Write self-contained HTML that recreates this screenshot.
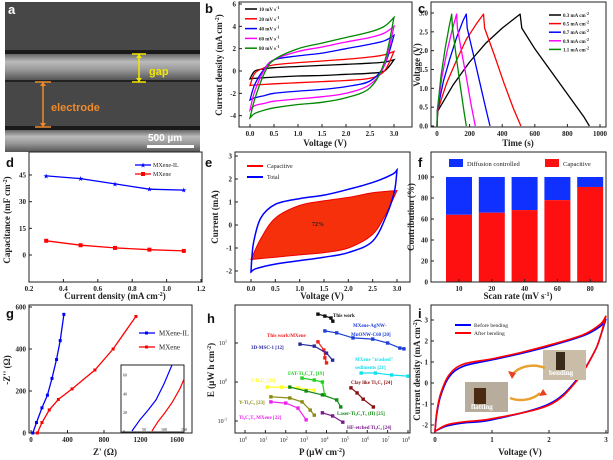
<!DOCTYPE html>
<html><head><meta charset="utf-8">
<style>
html,body{margin:0;padding:0;background:#fff;}
svg{display:block;font-family:"Liberation Serif",serif;}
</style></head>
<body>
<svg id="fig" width="613" height="460" viewBox="0 0 613 460" xmlns="http://www.w3.org/2000/svg">
<defs>
<linearGradient id="band" x1="0" y1="0" x2="0" y2="1">
<stop offset="0" stop-color="#666"/><stop offset="0.3" stop-color="#bbb"/><stop offset="0.6" stop-color="#999"/><stop offset="1" stop-color="#555"/>
</linearGradient>
</defs>
<g>
<rect x="5" y="2" width="195" height="150" fill="#474747"/>
<rect x="5" y="50" width="195" height="4" fill="#1a1a1a"/>
<rect x="5" y="54" width="195" height="26" fill="url(#band)"/>
<rect x="5" y="80" width="195" height="2" fill="#222"/>
<rect x="5" y="126" width="195" height="4" fill="#1a1a1a"/>
<rect x="5" y="130" width="195" height="22" fill="url(#band)"/>
<line x1="139" y1="54" x2="139" y2="82" stroke="#f2e600" stroke-width="1.5"/>
<line x1="132" y1="54" x2="146" y2="54" stroke="#f2e600" stroke-width="1.5"/>
<line x1="132" y1="82" x2="146" y2="82" stroke="#f2e600" stroke-width="1.5"/>
<polygon points="136,58 142,58 139,54" fill="#f2e600"/><polygon points="136,78 142,78 139,82" fill="#f2e600"/>
<text x="149" y="75" fill="#f2e600" font-size="11" font-weight="bold" font-family="Liberation Sans, sans-serif">gap</text>
<line x1="43" y1="82" x2="43" y2="127" stroke="#f08a2a" stroke-width="1.5"/>
<line x1="35" y1="82" x2="51" y2="82" stroke="#f08a2a" stroke-width="1.5"/>
<line x1="35" y1="127" x2="51" y2="127" stroke="#f08a2a" stroke-width="1.5"/>
<polygon points="40,86 46,86 43,82" fill="#f08a2a"/><polygon points="40,123 46,123 43,127" fill="#f08a2a"/>
<text x="51" y="111" fill="#f08a2a" font-size="11" font-weight="bold" font-family="Liberation Sans, sans-serif">electrode</text>
<text x="148" y="141" fill="#fff" font-size="10" font-weight="bold" font-family="Liberation Sans, sans-serif">500 µm</text>
<rect x="147" y="145" width="47" height="3" fill="#fff"/>
<text x="8" y="14" fill="#fff" font-size="13" font-weight="bold" font-family="Liberation Sans, sans-serif">a</text>
</g>
</svg>
<script>
// ---------- DATA ----------
const cvVolt=[0,0.1,0.3,0.5,1,1.5,2,2.5,2.8,3];
const cvRates=['10 mV s','20 mV s','40 mV s','60 mV s','80 mV s'];
const cvTop10=[-0.7,0,0.2,0.3,0.4,0.5,0.6,0.7,0.8,1.0];
const cvBot10=[-0.7,-0.65,-0.6,-0.55,-0.45,-0.4,-0.3,-0.2,0,1.0];
const cvTop20=[-1.3,-0.2,0.3,0.55,0.75,0.9,1.05,1.25,1.45,1.75];
const cvBot20=[-1.3,-1.25,-1.2,-1.15,-1.05,-0.95,-0.85,-0.65,0,1.75];
const cvTop40=[-2.6,-1.2,0.2,1.0,1.35,1.6,2.0,2.4,2.7,3.2];
const cvBot40=[-2.6,-2.4,-2.2,-2.0,-1.8,-1.65,-1.4,-0.9,0.5,3.2];
const cvTop60=[-3.5,-1.8,0.1,1.0,1.75,2.15,2.6,3.0,3.4,4.0];
const cvBot60=[-3.5,-3.1,-2.9,-2.7,-2.5,-2.3,-2.0,-1.2,0.5,4.0];
const cvTop80=[-4.2,-2.5,-0.2,1.0,2.0,2.5,3.0,3.5,4.0,4.8];
const cvBot80=[-4.2,-3.8,-3.5,-3.3,-3.0,-2.8,-2.4,-1.5,0.8,4.8];

const gcdCurrents=['0.3 mA cm','0.5 mA cm','0.7 mA cm','0.9 mA cm','1.1 mA cm'];
const gcdT03=[0,5,100,200,300,400,510,520,600,700,800,900,935];
const gcdV03=[0,0.4,1.1,1.7,2.2,2.6,2.97,2.6,2.05,1.45,0.85,0.25,0];
const gcdT05=[0,3,60,120,180,240,285,292,350,410,470,515];
const gcdV05=[0,0.4,1.15,1.75,2.3,2.7,2.97,2.6,1.9,1.15,0.45,0];
const gcdT07=[0,2,40,80,120,160,180,185,220,260,300,325];
const gcdV07=[0,0.4,1.2,1.8,2.35,2.8,2.97,2.6,1.95,1.2,0.45,0];
const gcdT09=[0,2,30,60,90,120,125,150,180,210,235];
const gcdV09=[0,0.4,1.3,1.95,2.5,2.97,2.6,2.0,1.3,0.55,0];
const gcdT11=[0,2,25,50,75,90,95,115,140,165,180];
const gcdV11=[0,0.4,1.35,2.05,2.65,2.97,2.6,1.95,1.15,0.4,0];

const capCurrent=[0.3,0.5,0.7,0.9,1.1];
const capIL=[44.5,43,40,37,36.5];
const capMX=[8,5.5,4,3,2.3];

const eCapTopV=[0,0.2,0.5,1,1.5,2,2.5,3];
const eCapTopI=[-1.5,-0.6,0.3,0.85,1.05,1.2,1.4,1.5];
const eCapBotV=[3,2.8,2.5,2,1.5,1,0.5,0];
const eCapBotI=[1.5,0.6,-0.4,-1.0,-1.2,-1.3,-1.4,-1.5];
const eTotTopV=[0,0.05,0.2,0.5,1,1.5,2,2.5,2.9,3];
const eTotTopI=[-2,-0.8,0.3,0.9,1.15,1.3,1.55,1.85,2.2,2.4];
const eTotBotV=[3,2.95,2.8,2.5,2,1.5,1,0.5,0.1,0];
const eTotBotI=[2.4,1.5,0.5,-0.7,-1.2,-1.4,-1.55,-1.7,-1.9,-2.05];

const fRates=['10','20','40','60','80'];
const fCapacitive=[64,66,68.5,78,90.5];

const gZreIL=[20,60,120,180,230,280,320,360];
const gZimIL=[0,50,120,180,260,350,440,565];
const gZreMX=[70,120,200,300,450,700,900,1150];
const gZimMX=[0,50,110,160,210,300,400,555];
const gInZreIL=[20,40,60,80,100,120];
const gInZimIL=[0,12,22,33,50,70];
const gInZreMX=[70,85,100,120,140,150];
const gInZimMX=[0,10,18,30,45,55];

const hNames=['This work','MXene-AgNW','This work/MXene','3D-MSC-1','MXene trashed','Clay like','FAT','I-Ti3C2','Laser','Y-Ti3C2','Ti3C2Tx MXene','HF-etched'];
const hLogP=[[3.58,3.92,4.22,4.31],[3.92,4.5,5.3,6.27,7.0,7.6,7.8],[3.58,3.87,3.92,4.0],[2.7,3.4,4.0,4.3],[5.7,6.4,7.2,8.0],[5.2,5.5,5.8,6.3],[2.8,3.4,3.8,3.9],[1.08,1.8,2.6,3.4],[2.2,3.0,3.8,4.5,4.7],[1.27,2.2,2.8,3.2,3.4],[1.27,2.0,2.6,3.0],[3.8,4.3,4.8]];
const hLogE=[[1.74,1.69,1.64,1.56],[1.31,1.26,1.13,1.10,1.0,0.87,0.85],[1.03,0.82,0.62,0.49],[0.97,0.92,0.74,0.56],[0.23,0.23,0.18,0.15],[-0.15,-0.28,-0.44,-0.64],[0.10,0.05,0,-0.33],[-0.13,-0.13,-0.15,-0.21],[-0.13,-0.23,-0.33,-0.46,-0.64],[-0.38,-0.41,-0.51,-0.72,-0.85],[-0.51,-0.54,-0.67,-0.97],[-0.79,-0.87,-1.03]];

const iTopV=[0,0.03,0.1,0.25,0.5,1,1.5,2,2.6,2.9,3];
const iTopBefore=[-2.3,-1.5,-0.6,0.3,0.8,1.1,1.4,1.75,2.25,2.7,3.05];
const iTopAfter=[-2.3,-1.4,-0.5,0.4,0.9,1.15,1.45,1.8,2.3,2.8,3.2];
const iBotV=[3,2.9,2.8,2.5,2,1,0.5,0.2,0];
const iBotBefore=[3.05,2.2,1.5,0.2,-1.0,-1.75,-1.9,-2.05,-2.3];
const iBotAfter=[3.2,2.2,1.5,0.15,-1.05,-1.7,-1.85,-2.0,-2.3];

// ---------- HELPERS ----------
const NS='http://www.w3.org/2000/svg';
const svg=document.getElementById('fig');
function mk(tag,at,parent){const e=document.createElementNS(NS,tag);for(const k in at)e.setAttribute(k,at[k]);(parent||svg).appendChild(e);return e;}
function txt(x,y,s,at,parent){const e=mk('text',Object.assign({x:x,y:y,'font-size':7,'font-weight':'bold',fill:'#222'},at||{}),parent);e.textContent=s;return e;}
function lin(d0,d1,r0,r1){return v=>r0+(v-d0)*(r1-r0)/(d1-d0);}
function pts(xs,ys,sx,sy){return xs.map((v,i)=>sx(v).toFixed(1)+','+sy(ys[i]).toFixed(1)).join(' ');}
function parr(xs,ys,sx,sy){return xs.map((v,i)=>[sx(v),sy(ys[i])]);}
function seg(P){
  const n=P.length;let d='';
  const get=i=>P[Math.max(0,Math.min(n-1,i))];
  for(let i=0;i<n-1;i++){
    const p0=get(i-1),p1=get(i),p2=get(i+1),p3=get(i+2);const t=6;
    const c1=[p1[0]+(p2[0]-p0[0])/t,p1[1]+(p2[1]-p0[1])/t];
    const c2=[p2[0]-(p3[0]-p1[0])/t,p2[1]-(p3[1]-p1[1])/t];
    d+=' C'+c1.map(v=>v.toFixed(1)).join(',')+' '+c2.map(v=>v.toFixed(1)).join(',')+' '+p2[0].toFixed(1)+','+p2[1].toFixed(1);
  }
  return d;
}
function loop(xt,yt,xb,yb,sx,sy){
  const a=parr(xt,yt,sx,sy), b=parr(xb,yb,sx,sy);
  return 'M'+a[0][0].toFixed(1)+','+a[0][1].toFixed(1)+seg(a)+' L'+b[0][0].toFixed(1)+','+b[0][1].toFixed(1)+seg(b)+'Z';
}
function axes(g,b,sx,sy,xt,yt,xf,yf){
  const r=mk('rect',{x:b.x0,y:b.y0,width:b.x1-b.x0,height:b.y1-b.y0,fill:'none',stroke:'#222','stroke-width':1},g);
  
  
  xt.forEach(v=>{const x=sx(v);mk('line',{x1:x,x2:x,y1:b.y1,y2:b.y1-3,stroke:'#222'},g);
    const t=txt(x,b.y1+9,xf(v),{'text-anchor':'middle'},g);
    
    });
  yt.forEach(v=>{const y=sy(v);mk('line',{x1:b.x0,x2:b.x0+3,y1:y,y2:y,stroke:'#222'},g);
    const t=txt(b.x0-3,y+2.5,yf(v),{'text-anchor':'end'},g);
    
    });
}
function ytitle(g,x,y,s){const t=txt(x,y,s,{'text-anchor':'middle','font-size':9,transform:'rotate(-90 '+x+' '+y+')'},g);
  
  return t;}
function xtitle(g,x,y,s){const t=txt(x,y,s,{'text-anchor':'middle','font-size':9},g);
  
  return t;}
function plabel(x,y,s){const t=txt(x,y,s,{'font-size':13,fill:'#111','font-family':'Liberation Sans, sans-serif'});
  
  }
function group(name){const g=mk('g',{});return g;}
const f1=v=>v.toFixed(1), f0=v=>String(v);

// ---------- PANEL B ----------
(function(){
const g=group('panel-b-cv-chart');
const b={x0:239,x1:412,y0:2,y1:127};
const sx=lin(0,3,250,394), sy=lin(0,6,71,4);
axes(g,b,sx,sy,[0,0.5,1,1.5,2,2.5,3],[-4,-2,0,2,4,6],f1,f0);
const cols=['#000','#f00','#00f','#f0f','#080'];
const tops=[cvTop10,cvTop20,cvTop40,cvTop60,cvTop80], bots=[cvBot10,cvBot20,cvBot40,cvBot60,cvBot80];
tops.forEach((t,i)=>{
  const rev=cvVolt.slice().reverse(), rb=bots[i].slice().reverse();
  const p=mk('path',{d:loop(cvVolt,t,rev,rb,sx,sy),fill:'none',stroke:cols[i],'stroke-width':1.3},g);
  
  
  const y=9+i*9.8;
  const l=mk('line',{x1:245,x2:257,y1:y,y2:y,stroke:cols[i],'stroke-width':1.5},g);
  
  
  const tt=txt(259,y+2,cvRates[i],{'font-size':5},g);
  
  
  mk('tspan',{dy:-2,'font-size':4},tt).textContent='-1';
});
xtitle(g,325,146,'Voltage (V)');
const yt=ytitle(g,222,65,'Current density (mA cm');
mk('tspan',{dy:-3,'font-size':6},yt).textContent='-2';
mk('tspan',{dy:3},yt).textContent=')';
plabel(205,13,'b');
})();

// ---------- PANEL C ----------
(function(){
const g=group('panel-c-gcd-chart');
const b={x0:431,x1:606,y0:2,y1:127};
const sx=lin(0,1000,437,600), sy=lin(0,3,126,13);
axes(g,b,sx,sy,[0,200,400,600,800,1000],[0,0.5,1,1.5,2,2.5,3],f0,f1);
const cols=['#000','#f00','#00f','#f0f','#080'];
const T=[gcdT03,gcdT05,gcdT07,gcdT09,gcdT11], V=[gcdV03,gcdV05,gcdV07,gcdV09,gcdV11];
T.forEach((t,i)=>{
  const p=mk('polyline',{points:pts(t,V[i],sx,sy),fill:'none',stroke:cols[i],'stroke-width':1.3,'stroke-linejoin':'round'},g);
  
  
  const y=15+i*8.6;
  const l=mk('line',{x1:549,x2:561,y1:y,y2:y,stroke:cols[i],'stroke-width':1.5},g);
  
  
  const tt=txt(563,y+2,gcdCurrents[i],{'font-size':5},g);
  
  
  mk('tspan',{dy:-2,'font-size':4},tt).textContent='-2';
});
xtitle(g,518,146,'Time (s)');
ytitle(g,420,65,'Voltage (V)');
plabel(418,13,'c');
})();

// ---------- PANEL D ----------
(function(){
const g=group('panel-d-capacitance-chart');
const b={x0:29,x1:202,y0:152,y1:282};
const sx=lin(0.2,1.2,29,201), sy=lin(0,45,255,175);
axes(g,b,sx,sy,[0.2,0.4,0.6,0.8,1.0,1.2],[0,15,30,45],f1,f0);
[[capIL,'#00f','mxene-il-series','MXene-IL',165,true],[capMX,'#f00','mxene-series','MXene',174,false]].forEach(s=>{
  const p=mk('polyline',{points:pts(capCurrent,s[0],sx,sy),fill:'none',stroke:s[1],'stroke-width':1.3},g);
  
  
  const marker=(x,y)=>s[5]?mk('text',{x:x,y:y+2.5,'font-size':7,'text-anchor':'middle',fill:s[1]},g):mk('rect',{x:x-2,y:y-2,width:4,height:4,fill:s[1]},g);
  capCurrent.forEach((c,i)=>{const m=marker(sx(c),sy(s[0][i]));if(s[5])m.textContent='★';
    
    });
  mk('line',{x1:135,x2:151,y1:s[4],y2:s[4],stroke:s[1],'stroke-width':1.3},g);
  const lm=marker(143,s[4]);if(s[5])lm.textContent='★';
  const t=txt(153,s[4]+2,s[3],{'font-size':6,'font-weight':'normal'},g);
  
  
});
const xt=xtitle(g,115,299,'Current density (mA cm');
mk('tspan',{dy:-3,'font-size':6},xt).textContent='-2';
mk('tspan',{dy:3},xt).textContent=')';
const yt=ytitle(g,10,220,'Capacitance (mF cm');
mk('tspan',{dy:-3,'font-size':6},yt).textContent='-2';
mk('tspan',{dy:3},yt).textContent=')';
plabel(6,167,'d');
})();

// ---------- PANEL E ----------
(function(){
const g=group('panel-e-capacitive-cv-chart');
const b={x0:235,x1:410,y0:152,y1:282};
const sx=lin(0,3,251,397), sy=lin(0,3,225,156);
axes(g,b,sx,sy,[0,0.5,1,1.5,2,2.5,3],[-2,-1,0,1,2,3],f1,f0);
const cap=mk('path',{d:loop(eCapTopV,eCapTopI,eCapBotV,eCapBotI,sx,sy),fill:'#f5300a',stroke:'#e00','stroke-width':1},g);


const tot=mk('path',{d:loop(eTotTopV,eTotTopI,eTotBotV,eTotBotI,sx,sy),fill:'none',stroke:'#00f','stroke-width':1.5},g);


const pc=txt(318,226,'72%',{'font-size':6,'text-anchor':'middle'},g);


mk('line',{x1:247,x2:263,y1:166,y2:166,stroke:'#f00','stroke-width':2},g);
mk('line',{x1:247,x2:263,y1:177,y2:177,stroke:'#00f','stroke-width':2},g);
const l1=txt(267,168,'Capacitive',{'font-size':6,'font-weight':'normal'},g);


const l2=txt(267,179,'Total',{'font-size':6,'font-weight':'normal'},g);


xtitle(g,322,299,'Voltage (V)');
ytitle(g,218,217,'Current (mA)');
plabel(205,167,'e');
})();

// ---------- PANEL F ----------
(function(){
const g=group('panel-f-contribution-chart');
const b={x0:431,x1:606,y0:152,y1:282};
const sy=lin(0,100,282,177);
const centers=fRates.map((r,i)=>459+i*32.8);
const sx=i=>centers[i];
fRates.forEach((r,i)=>{
  const x=sx(i)-13;
  const d=mk('rect',{x:x,y:sy(100),width:26,height:sy(fCapacitive[i])-sy(100),fill:'#1030ff'},g);
  
  
  const c=mk('rect',{x:x,y:sy(fCapacitive[i]),width:26,height:sy(0)-sy(fCapacitive[i]),fill:'#ff1010'},g);
  
  
});
axes(g,b,i=>sx(i),sy,[0,1,2,3,4],[0,20,40,60,80,100],i=>fRates[i],f0);
mk('rect',{x:449,y:159,width:14,height:8,fill:'#1030ff'},g);
mk('rect',{x:545,y:159,width:14,height:8,fill:'#ff1010'},g);
const l1=txt(467,166,'Diffusion controlled',{'font-size':6.5,'font-weight':'normal'},g);


const l2=txt(563,166,'Capacitive',{'font-size':6.5,'font-weight':'normal'},g);


const xt=xtitle(g,518,299,'Scan rate (mV s');
mk('tspan',{dy:-3,'font-size':6},xt).textContent='-1';
mk('tspan',{dy:3},xt).textContent=')';
ytitle(g,414,217,'Contribution (%)');
plabel(418,167,'f');
})();

// ---------- PANEL G ----------
(function(){
const g=group('panel-g-nyquist-chart');
const b={x0:29,x1:192,y0:305,y1:433};
const sx=lin(0,1600,31,177), sy=lin(0,600,433,307);
axes(g,b,sx,sy,[0,400,800,1200,1600],[0,200,400,600],f0,f0);
[[gZreIL,gZimIL,'#00f','mxene-il-nyquist'],[gZreMX,gZimMX,'#f00','mxene-nyquist']].forEach(s=>{
  const p=mk('polyline',{points:pts(s[0],s[1],sx,sy),fill:'none',stroke:s[2],'stroke-width':1.3},g);
  
  
  s[0].forEach((v,i)=>{const m=mk('rect',{x:sx(v)-1.5,y:sy(s[1][i])-1.5,width:3,height:3,fill:s[2]},g);
    
    });
});
[[333,'#00f','MXene-IL'],[347,'#f00','MXene']].forEach(s=>{
  mk('line',{x1:139,x2:155,y1:s[0],y2:s[0],stroke:s[1],'stroke-width':1.3},g);
  mk('rect',{x:145,y:s[0]-1.5,width:3,height:3,fill:s[1]},g);
  const t=txt(159,s[0]+2.5,s[2],{'font-size':7,'font-weight':'normal'},g);
  
  
});
const ib={x0:121,x1:184,y0:365,y1:432};
const isx=lin(0,150,124,184), isy=lin(0,70,431,365);
const ir=mk('rect',{x:ib.x0,y:ib.y0,width:ib.x1-ib.x0,height:ib.y1-ib.y0,fill:'#fff',stroke:'#222'},g);


[0,20,40,60].forEach(v=>{const t=txt(ib.x0+2,isy(v)+2,String(v),{'font-size':4,'font-weight':'normal'},g);
  
  });
[50,100,150].forEach(v=>{const t=txt(isx(v),ib.y1-1,String(v),{'font-size':4,'font-weight':'normal','text-anchor':'middle'},g);
  
  });
const a=mk('polyline',{points:pts(gInZreIL,gInZimIL,isx,isy),fill:'none',stroke:'#00f','stroke-width':1.2},g);


const c=mk('polyline',{points:pts(gInZreMX,gInZimMX,isx,isy),fill:'none',stroke:'#f00','stroke-width':1.2},g);


xtitle(g,105,455,"Z' (Ω)");
ytitle(g,10,370,"-Z'' (Ω)");
plabel(6,318,'g');
})();

// ---------- PANEL H ----------
(function(){
const g=group('panel-h-ragone-chart');
const b={x0:235,x1:410,y0:305,y1:433};
const sx=lin(0,8,245,408), sy=lin(0,1,382,343);
mk('rect',{x:b.x0,y:b.y0,width:b.x1-b.x0,height:b.y1-b.y0,fill:'none',stroke:'#222'},g);
[0,1,2,3,4,5,6,7,8].forEach(e=>{const x=sx(e);mk('line',{x1:x,x2:x,y1:b.y1,y2:b.y1-3,stroke:'#222'},g);
  const t=txt(x-2,b.y1+9,'10',{'font-size':6,'font-weight':'normal','text-anchor':'middle'},g);
  
  
  mk('tspan',{dy:-2.5,'font-size':4},t).textContent=String(e);});
[-1,0,1].forEach(e=>{const y=sy(e);mk('line',{x1:b.x0,x2:b.x0+3,y1:y,y2:y,stroke:'#222'},g);
  const t=txt(b.x0-8,y+2,'10',{'font-size':6,'font-weight':'normal','text-anchor':'end'},g);
  
  
  mk('tspan',{dy:-2.5,'font-size':4},t).textContent=String(e);});
const cols=['#111','#1f3fd8','#f02020','#2a2a9a','#10e0f0','#8a1010','#20d020','#ffff20','#138a13','#8a8a10','#f020f0','#7a1a8a'];
hLogP.forEach((lp,i)=>{
  const p=mk('polyline',{points:pts(lp,hLogE[i],sx,sy),fill:'none',stroke:cols[i],'stroke-width':1.2},g);
  
  
  lp.forEach((v,j)=>{const m=mk('rect',{x:sx(v)-1.7,y:sy(hLogE[i][j])-1.7,width:3.4,height:3.4,fill:cols[i]},g);
    
    });
});
const labs=[['This work',333,317,0],['MXene-AgNW-',353,327,1],['MnONW-C60 [20]',351,336,1],['This work/MXene',267,337,2],['3D-MSC-1 [12]',251,349,3],['MXene "trashed"',355,361,4],['sediments [21]',355,369,4],['FAT-Ti\u2083C\u2082T\u2093 [19]',288,375,6],['I-Ti\u2083C\u2082 [23]',251,382,7],['Clay like Ti\u2083C\u2082 [24]',351,384,5],['Y-Ti\u2083C\u2082 [23]',239,404,9],['Laser-Ti\u2083C\u2082T\u2093 (II) [25]',337,415,8],['Ti\u2083C\u2082T\u2093 MXene [22]',239,419,10],['HF-etched Ti\u2083C\u2082 [24]',347,429,11]];
labs.forEach(l=>{const t=txt(l[1],l[2],l[0],{'font-size':5,fill:cols[l[3]]},g);
  
  });
const xt=xtitle(g,322,455,'P (μW cm');
mk('tspan',{dy:-3,'font-size':6},xt).textContent='-2';
mk('tspan',{dy:3},xt).textContent=')';
const yt=ytitle(g,214,370,'E (μW h cm');
mk('tspan',{dy:-3,'font-size':6},yt).textContent='-2';
mk('tspan',{dy:3},yt).textContent=')';
plabel(207,323,'h');
})();

// ---------- PANEL I ----------
(function(){
const g=group('panel-i-bending-cv-chart');
const b={x0:431,x1:608,y0:305,y1:433};
const sx=lin(0,3,435,606), sy=lin(0,3,383,320);
axes(g,b,sx,sy,[0,1,2,3],[-2,-1,0,1,2,3],f0,f0);
[[iTopBefore,iBotBefore,'#00f','before-bending-loop'],[iTopAfter,iBotAfter,'#f00','after-bending-loop']].forEach(s=>{
  const p=mk('path',{d:loop(iTopV,s[0],iBotV,s[1],sx,sy),fill:'none',stroke:s[2],'stroke-width':1.6},g);
  
  
});
[[325,'#00f','Before bending'],[333,'#f00','After bending']].forEach(s=>{
  mk('line',{x1:455,x2:471,y1:s[0],y2:s[0],stroke:s[1],'stroke-width':2},g);
  const t=txt(474,s[0]+2,s[2],{'font-size':5.5,'font-weight':'normal'},g);
  
  
});
const p1=mk('rect',{x:543,y:350,width:43,height:30,fill:'#c9bda8'},g);


mk('rect',{x:556,y:352,width:9,height:18,fill:'#3a2a1a'},g);
const t1=txt(549,375,'bending',{'font-size':7,fill:'#fff'},g);


const p2=mk('rect',{x:465,y:382,width:43,height:30,fill:'#b8ad9c'},g);


mk('rect',{x:474,y:388,width:12,height:16,fill:'#4a2a10'},g);
const t2=txt(471,409,'flatting',{'font-size':7,fill:'#fff'},g);


const arc=mk('path',{d:'M512,375 A24,18 0 0 1 545,368 M540,393 A24,18 0 0 1 510,398',fill:'none',stroke:'#e8a030','stroke-width':2.5},g);


mk('polygon',{points:'508,371 512,379 516,373',fill:'#e84020'},g);
mk('polygon',{points:'543,389 539,396 547,395',fill:'#e84020'},g);
xtitle(g,520,455,'Voltage (V)');
const yt=ytitle(g,420,370,'Current density (mA cm');
mk('tspan',{dy:-3,'font-size':6},yt).textContent='-2';
mk('tspan',{dy:3},yt).textContent=')';
plabel(418,318,'i');
})();
</script>
</body></html>
